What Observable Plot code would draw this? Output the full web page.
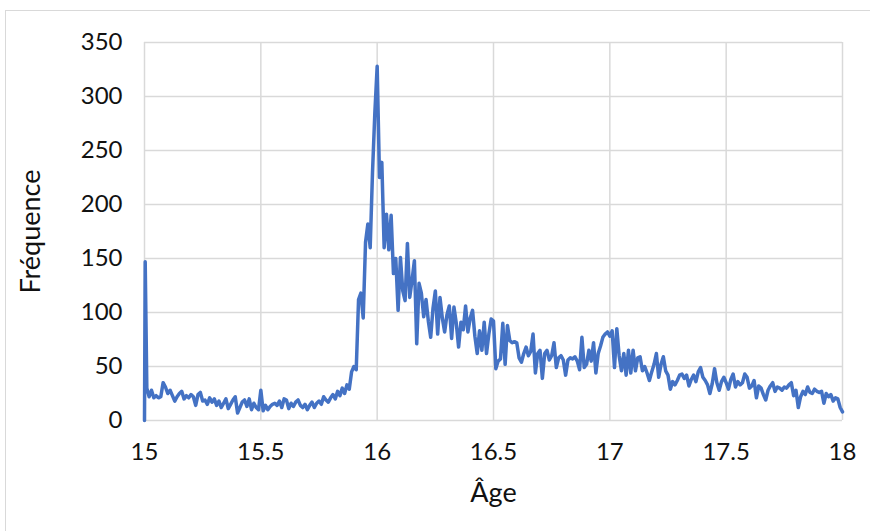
<!DOCTYPE html>
<html><head><meta charset="utf-8">
<script src="https://cdn.jsdelivr.net/npm/d3@7"></script>
<script src="https://cdn.jsdelivr.net/npm/@observablehq/plot@0.6"></script>
<style>
html,body{margin:0;padding:0;background:#fff;width:870px;height:531px;overflow:hidden;}
#frame{position:absolute;left:5px;top:10px;width:900px;height:600px;border:1px solid #d9d9d9;}
#chart{position:absolute;left:0;top:0;}
</style></head><body>
<div id="frame"></div><div id="chart"></div>
<script>
// Axis ticks
const xTicks = [15, 15.5, 16, 16.5, 17, 17.5, 18];
const yTicks = [0, 50, 100, 150, 200, 250, 300, 350];

// Opening spike (age in years, frequency)
const startAges = [15, 15.003];
const startFreq = [0, 147];

// Frequencies for ages 15.01, 15.02, ... 18.00 (step 0.01 year)
const freq = [
  30, 22, 28, 21, 23, 21, 22, 35, 31, 25,
  28, 23, 18, 22, 25, 27, 20, 23, 21, 24,
  22, 14, 24, 26, 18, 19, 15, 21, 17, 20,
  14, 18, 12, 16, 20, 11, 15, 19, 22, 7,
  12, 17, 19, 13, 20, 10, 16, 12, 10, 28,
  9, 14, 10, 13, 15, 16, 14, 18, 12, 20,
  19, 11, 16, 13, 17, 19, 14, 12, 15, 10,
  14, 17, 12, 16, 18, 15, 22, 19, 17, 21,
  24, 20, 27, 23, 30, 25, 33, 29, 45, 50,
  47, 112, 118, 95, 165, 182, 160, 230, 285, 328,
  225, 239, 160, 191, 158, 190, 136, 150, 102, 151,
  120, 111, 164, 114, 130, 148, 71, 127, 118, 96,
  112, 92, 77, 104, 120, 80, 114, 95, 82, 98,
  106, 76, 105, 90, 68, 91, 84, 106, 82, 95,
  102, 78, 62, 83, 65, 91, 62, 80, 94, 92,
  48, 55, 57, 90, 52, 88, 74, 72, 73, 72,
  58, 54, 62, 68, 60, 64, 80, 44, 62, 65,
  39, 62, 65, 56, 60, 72, 49, 58, 60, 56,
  42, 56, 58, 57, 59, 55, 47, 77, 49, 52,
  65, 55, 72, 44, 62, 69, 77, 80, 82, 78,
  83, 49, 85, 60, 46, 62, 42, 65, 44, 65,
  46, 58, 59, 46, 50, 44, 37, 45, 52, 62,
  40, 52, 59, 46, 42, 29, 36, 33, 37, 42,
  43, 39, 42, 32, 38, 42, 36, 45, 49, 40,
  37, 33, 25, 34, 48, 35, 28, 36, 40, 35,
  29, 38, 43, 31, 36, 33, 35, 43, 40, 30,
  32, 37, 21, 32, 30, 24, 19, 28, 32, 35,
  27, 31, 30, 28, 31, 30, 33, 35, 23, 28,
  12, 22, 27, 24, 31, 26, 25, 29, 27, 26,
  27, 16, 25, 22, 24, 18, 21, 20, 12, 8
];

const data = [
  ...startAges.map((a, i) => ({age: a, freq: startFreq[i]})),
  ...freq.map((f, i) => ({age: 15 + (i + 1) / 100, freq: f}))
];

const chart = Plot.plot({
  width: 870, height: 531,
  marginLeft: 144, marginRight: 28, marginTop: 42, marginBottom: 111,
  style: {fontFamily: "Lato, 'Open Sans', sans-serif", fontSize: "24px", color: "#111", background: "transparent"},
  x: {domain: [15, 18]},
  y: {domain: [0, 350]},
  marks: [
    Plot.gridX(xTicks, {stroke: "#d9d9d9", strokeOpacity: 1, strokeWidth: 1.5}),
    Plot.gridY(yTicks, {stroke: "#d9d9d9", strokeOpacity: 1, strokeWidth: 1.5}),
    Plot.axisX(xTicks, {tickSize: 0, tickPadding: 22, label: null, tickFormat: d => String(d)}),
    Plot.axisY(yTicks, {tickSize: 0, tickPadding: 22, label: null, tickFormat: d => String(d)}),
    Plot.line(data, {x: "age", y: "freq", stroke: "#4472C4", strokeWidth: 3.5, strokeLinejoin: "round", strokeLinecap: "round"}),
    Plot.text(["Fréquence"], {text: d => d, frameAnchor: "left", textAnchor: "middle", lineAnchor: "middle", rotate: -90, dx: -113, fontSize: 27, fill: "#111"}),
    Plot.text(["Âge"], {text: d => d, frameAnchor: "bottom", textAnchor: "middle", lineAnchor: "middle", dy: 73, fontSize: 27, fill: "#111"})
  ]
});
document.getElementById("chart").appendChild(chart);
</script></body></html>
